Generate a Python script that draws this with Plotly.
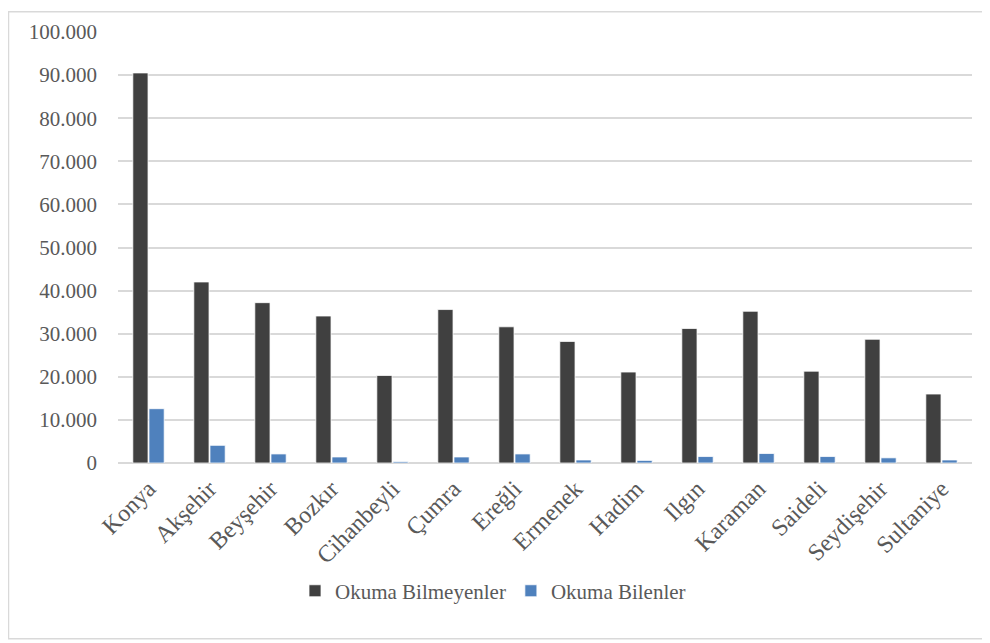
import plotly.graph_objects as go

categories = ["Konya", "Akşehir", "Beyşehir", "Bozkır", "Cihanbeyli", "Çumra", "Ereğli",
              "Ermenek", "Hadim", "Ilgın", "Karaman", "Saideli", "Seydişehir", "Sultaniye"]
okuma_bilmeyenler = [90500, 42000, 37200, 34100, 20300, 35600, 31600,
                     28200, 21100, 31200, 35200, 21300, 28700, 16000]
okuma_bilenler = [12600, 4100, 2100, 1400, 300, 1400, 2100,
                  700, 600, 1500, 2200, 1500, 1200, 700]
y_ticks = list(range(0, 100001, 10000))
y_tick_labels = ["0" if v == 0 else f"{v // 1000}.000" for v in y_ticks]

FONT = "Liberation Serif, DejaVu Serif, serif"
OFF = 8  # page body margin
W, H = 990 - OFF, 643 - OFF
L, R, T, B = 118 - OFF, 18, 29 - OFF, 180
pw, ph = W - L - R, H - T - B

def px_x(p):
    return (p - OFF - L) / pw

def px_y(p):
    return (H - B - (p - OFF)) / ph

fig = go.Figure()
fig.add_trace(go.Bar(x=categories, y=okuma_bilmeyenler, name="Okuma Bilmeyenler",
                     marker=dict(color="#404040", line=dict(color="#ffffff", width=0.75))))
fig.add_trace(go.Bar(x=categories, y=okuma_bilenler, name="Okuma Bilenler",
                     marker=dict(color="#4f81bd", line=dict(color="#ffffff", width=0.75))))

fig.update_layout(
    width=W, height=H,
    margin=dict(l=L, r=R, t=T, b=B),
    paper_bgcolor="white", plot_bgcolor="white",
    barmode="group", bargap=0.47, bargroupgap=0.06,
    font=dict(family=FONT, size=21, color="#595959"),
    showlegend=True,
    legend=dict(orientation="h", x=px_x(493), xanchor="center", y=px_y(592), yanchor="middle",
                font=dict(family=FONT, size=21, color="#595959"), itemwidth=30,
                traceorder="normal"),
    xaxis=dict(tickangle=-45, showgrid=False, showline=False, ticks="",
               ticklabelstandoff=6,
               tickfont=dict(family=FONT, size=24, color="#595959")),
    yaxis=dict(range=[0, 100000], tickvals=y_ticks, ticktext=y_tick_labels,
               showgrid=True, gridcolor="#d9d9d9", gridwidth=1.5,
               zeroline=True, zerolinecolor="#d9d9d9", zerolinewidth=1.5,
               showline=False, ticks="", ticklabelstandoff=20,
               tickfont=dict(family=FONT, size=21, color="#595959")),
    shapes=[dict(type="rect", xref="paper", yref="paper",
                 x0=px_x(8.5), x1=px_x(984), y0=px_y(640), y1=px_y(8.5),
                 line=dict(color="#d9d9d9", width=1.5), fillcolor="rgba(0,0,0,0)", layer="below")],
)

fig.write_html("out.html")
